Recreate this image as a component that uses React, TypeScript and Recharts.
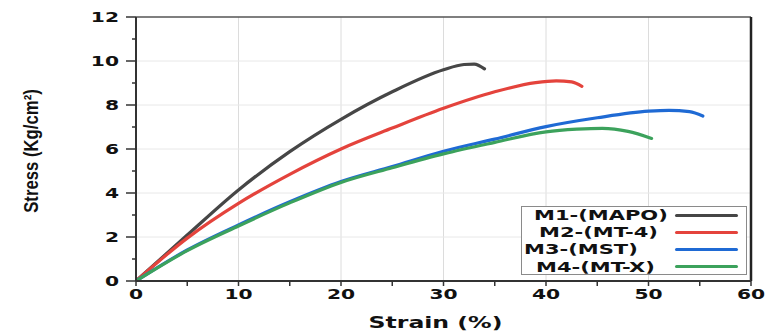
import React from 'react';
import { LineChart, Line, XAxis, YAxis, ReferenceLine, Legend } from 'recharts';

// ---- data ----
const seriesNames = ['M1-(MAPO)', 'M2-(MT-4)', 'M3-(MST)', 'M4-(MT-X)'];
const seriesColors = ['#464646', '#e4433c', '#1f6ad4', '#3ca25c'];

const m1Strain = [0, 5, 10, 15, 20, 25, 30, 32, 33, 34];
const m1Stress = [0, 2.09, 4.14, 5.88, 7.35, 8.6, 9.6, 9.84, 9.86, 9.64];

const m2Strain = [0, 5, 10, 15, 20, 25, 30, 35, 39, 41, 42.5, 43.5];
const m2Stress = [0, 1.95, 3.53, 4.85, 6.0, 6.95, 7.85, 8.6, 9.02, 9.1, 9.05, 8.85];

const m3Strain = [0, 5, 10, 15, 20, 25, 30, 35, 40, 45, 50, 52, 54, 55.3];
const m3Stress = [0, 1.41, 2.55, 3.6, 4.52, 5.2, 5.9, 6.45, 7.02, 7.42, 7.72, 7.76, 7.7, 7.5];

const m4Strain = [0, 5, 10, 15, 20, 25, 30, 35, 40, 43, 45.5, 48, 50.3];
const m4Stress = [0, 1.38, 2.5, 3.55, 4.48, 5.15, 5.78, 6.3, 6.78, 6.9, 6.94, 6.8, 6.48];

const xTicks = [0, 5, 10, 15, 20, 25, 30, 35, 40, 45, 50, 55, 60];
const yTicks = [0, 1, 2, 3, 4, 5, 6, 7, 8, 9, 10, 11, 12];
const xGrid = [10, 20, 30, 40, 50];
const yGrid = [2, 4, 6, 8, 10];

const toPoints = (xs: number[], ys: number[]) => xs.map((x, i) => ({ x, y: ys[i] }));
const seriesData = [
  toPoints(m1Strain, m1Stress),
  toPoints(m2Strain, m2Stress),
  toPoints(m3Strain, m3Stress),
  toPoints(m4Strain, m4Stress),
];

const WIDE = "'DejaVu Sans', Verdana, sans-serif";

const YTick = (props: any) => {
  const { x, y, payload } = props;
  const v = payload.value as number;
  const major = v % 2 === 0;
  return (
    <g>
      <line x1={x - (major ? 10 : 4)} x2={x} y1={y} y2={y} stroke="#333" strokeWidth={1.5} />
      {major && (
        <text
          transform={`translate(${x - 17},${y}) scale(1.5,1)`}
          textAnchor="end"
          dy="0.36em"
          fontFamily={WIDE}
          fontWeight={700}
          fontSize={13.5}
          fill="#111"
        >
          {v}
        </text>
      )}
    </g>
  );
};

const XTick = (props: any) => {
  const { x, y, payload } = props;
  const v = payload.value as number;
  const major = v % 10 === 0;
  return (
    <g>
      <line x1={x} x2={x} y1={y} y2={y + 5} stroke="#333" strokeWidth={1.5} />
      {major && (
        <text
          transform={`translate(${x},${y + 13}) scale(1.5,1)`}
          textAnchor="middle"
          dy="0.36em"
          fontFamily={WIDE}
          fontWeight={700}
          fontSize={13.5}
          fill="#111"
        >
          {v}
        </text>
      )}
    </g>
  );
};

const XLabel = (props: any) => {
  const vb = props.viewBox || {};
  const cx = vb.x + vb.width / 2 - 8;
  return (
    <text
      transform={`translate(${cx},${vb.y + 41}) scale(1.52,1)`}
      textAnchor="middle"
      dy="0.36em"
      fontFamily={WIDE}
      fontWeight={700}
      fontSize={15.5}
      fill="#111"
    >
      Strain (%)
    </text>
  );
};

const YLabel = (props: any) => {
  const vb = props.viewBox || {};
  const cy = vb.y + vb.height / 2 + 2;
  return (
    <text
      transform={`translate(31,${cy}) rotate(-90) scale(0.93,1.08)`}
      textAnchor="middle"
      dy="0.36em"
      fontFamily="'Liberation Sans', Arial, sans-serif"
      fontWeight={700}
      fontSize={18}
      fill="#111"
    >
      Stress (Kg/cm²)
    </text>
  );
};

const textOffsets = [12, 17, 2, 14];

const LegendBox = () => (
  <div
    style={{
      width: 226,
      height: 69,
      border: '1px solid #8a8a8a',
      background: '#fff',
      position: 'relative',
      boxSizing: 'border-box',
    }}
  >
    {seriesNames.map((n, i) => (
      <div key={n} style={{ position: 'absolute', left: 0, top: 0, width: '100%', height: '100%' }}>
        <span
          style={{
            position: 'absolute',
            left: textOffsets[i],
            top: 8 + i * 17.2 - 8,
            fontFamily: WIDE,
            fontWeight: 700,
            fontSize: 14,
            lineHeight: '16px',
            color: '#111',
            transform: 'scaleX(1.5)',
            transformOrigin: 'left center',
            whiteSpace: 'nowrap',
          }}
        >
          {n}
        </span>
        <div
          style={{
            position: 'absolute',
            left: 153,
            width: 63,
            top: 8 + i * 17.2 - 1.5,
            height: 3,
            borderRadius: 2,
            background: seriesColors[i],
          }}
        />
      </div>
    ))}
  </div>
);

export default function App() {
  return (
    <div style={{ position: 'absolute', left: 0, top: 0, width: 765, height: 334, background: '#fff' }}>
      <LineChart width={765} height={334} margin={{ top: 17, right: 14, bottom: 0, left: 0 }}>
        <XAxis
          type="number"
          dataKey="x"
          domain={[0, 60]}
          ticks={xTicks}
          interval={0}
          allowDataOverflow
          height={53}
          tickSize={0}
          tickMargin={0}
          tickLine={false}
          tick={<XTick />}
          axisLine={{ stroke: '#333', strokeWidth: 2 }}
          label={<XLabel />}
        />
        <YAxis
          type="number"
          dataKey="y"
          domain={[0, 12]}
          ticks={yTicks}
          interval={0}
          allowDataOverflow
          width={136}
          tickSize={0}
          tickMargin={0}
          tickLine={false}
          tick={<YTick />}
          axisLine={{ stroke: '#333', strokeWidth: 2 }}
          label={<YLabel />}
        />
        {xGrid.map((v) => (
          <ReferenceLine key={'gx' + v} x={v} stroke="#dcdcdc" strokeWidth={1} />
        ))}
        {yGrid.map((v) => (
          <ReferenceLine key={'gy' + v} y={v} stroke="#e8e8e8" strokeWidth={1} />
        ))}
        <ReferenceLine y={12} stroke="#555" strokeWidth={1.5} />
        <ReferenceLine x={60} stroke="#222" strokeWidth={2.5} />
        {seriesData.map((d, i) => (
          <Line
            key={seriesNames[i]}
            data={d}
            dataKey="y"
            name={seriesNames[i]}
            type="monotone"
            stroke={seriesColors[i]}
            strokeWidth={3.2}
            dot={false}
            activeDot={false}
            strokeLinecap="round"
            isAnimationActive={false}
          />
        ))}
        <Legend
          layout="horizontal"
          verticalAlign="middle"
          align="center"
          content={<LegendBox />}
          wrapperStyle={{ left: 521, top: 206, width: 226, height: 69 }}
        />
      </LineChart>
    </div>
  );
}
